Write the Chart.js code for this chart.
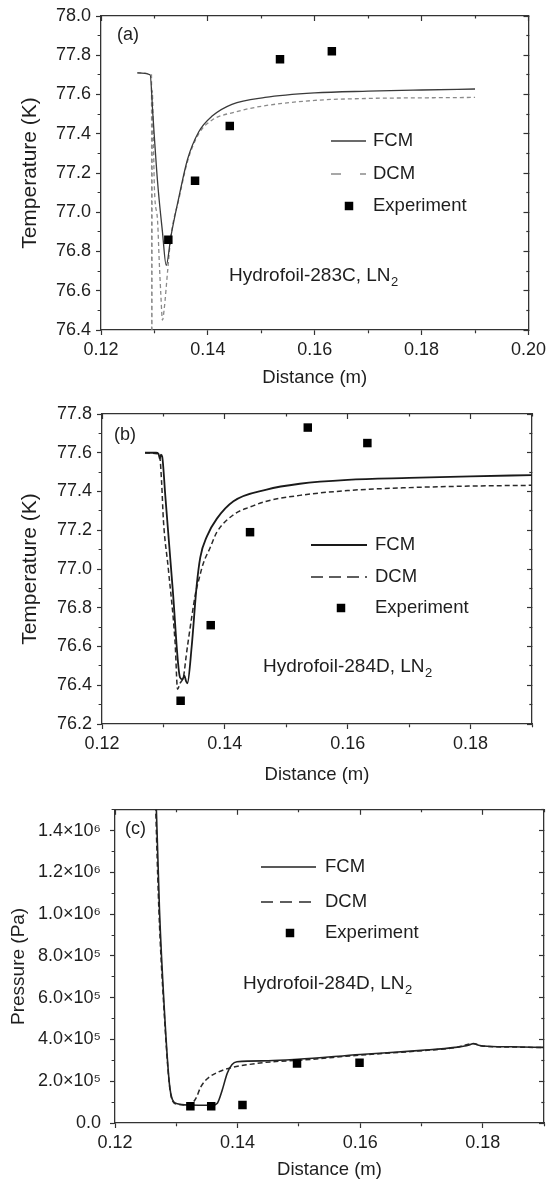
<!DOCTYPE html>
<html>
<head>
<meta charset="utf-8">
<script src="https://cdn.jsdelivr.net/npm/chart.js@4.4.1/dist/chart.umd.min.js"></script>
<style>
html,body{margin:0;padding:0;background:#fff;overflow:hidden;width:550px;height:1183px;}
canvas{position:absolute;left:0;display:block;}
#ca{top:0;} #cb{top:395px;} #cc{top:790px;}
</style>
</head>
<body>
<canvas id="ca" width="550" height="395"></canvas>
<canvas id="cb" width="550" height="395"></canvas>
<canvas id="cc" width="550" height="393"></canvas>
<script>
// ================= DATA =================
// ---- Panel (a): Hydrofoil-283C, temperature (K) vs distance (m)
const fcmA_x = [0.1268, 0.1292, 0.1297, 0.1306, 0.1315, 0.1322, 0.1331, 0.1346, 0.1362, 0.1383, 0.1408, 0.1445, 0.1507, 0.1600, 0.1700, 0.1800, 0.1900];
const fcmA_T = [77.71, 77.70, 77.50, 77.15, 76.90, 76.73, 76.88, 77.08, 77.27, 77.41, 77.49, 77.55, 77.585, 77.608, 77.617, 77.623, 77.628];
const dcmA_x = [0.1268, 0.12945, 0.12952, 0.12958, 0.1300, 0.1306, 0.1309, 0.1312, 0.1315, 0.1318, 0.1325, 0.1331, 0.1346, 0.1362, 0.1383, 0.1408, 0.1450, 0.1500, 0.1600, 0.1700, 0.1800, 0.1900];
const dcmA_T = [77.71, 77.70, 75.80, 77.62, 77.12, 76.95, 76.75, 76.58, 76.45, 76.50, 76.71, 76.88, 77.07, 77.26, 77.40, 77.47, 77.51, 77.54, 77.57, 77.58, 77.583, 77.585];
const expA_x = [0.1326, 0.1376, 0.1441, 0.1535, 0.1632];
const expA_T = [76.86, 77.16, 77.44, 77.78, 77.82];
const xTicksA  = [0.12, 0.13, 0.14, 0.15, 0.16, 0.17, 0.18, 0.19, 0.20];
const xMajorA  = [0.12, 0.14, 0.16, 0.18, 0.20];
const xLabelsA = ['0.12', '0.14', '0.16', '0.18', '0.20'];
const yTicksA  = [76.4, 76.5, 76.6, 76.7, 76.8, 76.9, 77.0, 77.1, 77.2, 77.3, 77.4, 77.5, 77.6, 77.7, 77.8, 77.9, 78.0];
const yMajorA  = [76.4, 76.6, 76.8, 77.0, 77.2, 77.4, 77.6, 77.8, 78.0];
const yLabelsA = ['76.4', '76.6', '76.8', '77.0', '77.2', '77.4', '77.6', '77.8', '78.0'];

// ---- Panel (b): Hydrofoil-284D, temperature (K) vs distance (m)
const fcmB_x = [0.1270, 0.1288, 0.1292, 0.1294, 0.1296, 0.1298, 0.1303, 0.1315, 0.1327, 0.1331, 0.1334, 0.1337, 0.1339, 0.1346, 0.1354, 0.1360, 0.1371, 0.1387, 0.1414, 0.1468, 0.1522, 0.1600, 0.1700, 0.1800, 0.1900];
const fcmB_T = [77.60, 77.60, 77.595, 77.57, 77.59, 77.58, 77.38, 76.90, 76.44, 76.43, 76.45, 76.42, 76.41, 76.60, 76.91, 77.06, 77.17, 77.26, 77.35, 77.41, 77.44, 77.46, 77.47, 77.478, 77.485];
const dcmB_x = [0.1270, 0.1290, 0.1294, 0.1297, 0.1300, 0.1308, 0.1319, 0.1323, 0.1327, 0.1333, 0.1337, 0.1340, 0.1346, 0.1352, 0.1358, 0.1365, 0.1376, 0.1387, 0.1414, 0.1441, 0.1468, 0.1522, 0.1600, 0.1700, 0.1800, 0.1900];
const dcmB_T = [77.60, 77.595, 77.58, 77.45, 77.25, 77.00, 76.62, 76.38, 76.41, 76.45, 76.55, 76.62, 76.75, 76.87, 76.95, 77.03, 77.11, 77.19, 77.28, 77.32, 77.35, 77.38, 77.405, 77.42, 77.428, 77.432];
const expB_x = [0.1328, 0.1377, 0.1441, 0.1535, 0.1632];
const expB_T = [76.32, 76.71, 77.19, 77.73, 77.65];
const xTicksB  = [0.12, 0.13, 0.14, 0.15, 0.16, 0.17, 0.18, 0.19];
const xMajorB  = [0.12, 0.14, 0.16, 0.18];
const xLabelsB = ['0.12', '0.14', '0.16', '0.18'];
const yTicksB  = [76.2, 76.3, 76.4, 76.5, 76.6, 76.7, 76.8, 76.9, 77.0, 77.1, 77.2, 77.3, 77.4, 77.5, 77.6, 77.7, 77.8];
const yMajorB  = [76.2, 76.4, 76.6, 76.8, 77.0, 77.2, 77.4, 77.6, 77.8];
const yLabelsB = ['76.2', '76.4', '76.6', '76.8', '77.0', '77.2', '77.4', '77.6', '77.8'];

// ---- Panel (c): Hydrofoil-284D, pressure (Pa) vs distance (m)
const fcmC_x = [0.1265, 0.12726, 0.12806, 0.12887, 0.1294, 0.1302, 0.1321, 0.1359, 0.1367, 0.1375, 0.1383, 0.1391, 0.1399, 0.1450, 0.1498, 0.1600, 0.1700, 0.1755, 0.1778, 0.1785, 0.1792, 0.1801, 0.1846, 0.1900];
const fcmC_P = [1.75e6, 1.02e6, 0.54e6, 0.19e6, 0.11e6, 0.092e6, 0.086e6, 0.085e6, 0.095e6, 0.158e6, 0.237e6, 0.280e6, 0.293e6, 0.298e6, 0.305e6, 0.328e6, 0.348e6, 0.362e6, 0.374e6, 0.381e6, 0.374e6, 0.369e6, 0.365e6, 0.362e6];
const dcmC_x = [0.1264, 0.12716, 0.12800, 0.12885, 0.1294, 0.1302, 0.1320, 0.1326, 0.1332, 0.1340, 0.1351, 0.1369, 0.1391, 0.1418, 0.1455, 0.1498, 0.1600, 0.1700, 0.1755, 0.1785, 0.1801, 0.1846, 0.1900];
const dcmC_P = [1.75e6, 1.02e6, 0.54e6, 0.19e6, 0.105e6, 0.090e6, 0.086e6, 0.095e6, 0.118e6, 0.173e6, 0.213e6, 0.245e6, 0.266e6, 0.280e6, 0.293e6, 0.300e6, 0.325e6, 0.346e6, 0.361e6, 0.380e6, 0.368e6, 0.364e6, 0.361e6];
const expC_x = [0.1323, 0.1357, 0.1408, 0.1497, 0.1599];
const expC_P = [0.080e6, 0.080e6, 0.086e6, 0.285e6, 0.288e6];
const xTicksC  = [0.12, 0.13, 0.14, 0.15, 0.16, 0.17, 0.18, 0.19];
const xMajorC  = [0.12, 0.14, 0.16, 0.18];
const xLabelsC = ['0.12', '0.14', '0.16', '0.18'];
const yTicksC  = [0, 1e5, 2e5, 3e5, 4e5, 5e5, 6e5, 7e5, 8e5, 9e5, 1.0e6, 1.1e6, 1.2e6, 1.3e6, 1.4e6, 1.5e6];
const yMajorC  = [0, 2e5, 4e5, 6e5, 8e5, 1.0e6, 1.2e6, 1.4e6];
const yLabelsC = ['0.0', '2.0×10⁵', '4.0×10⁵', '6.0×10⁵', '8.0×10⁵', '1.0×10⁶', '1.2×10⁶', '1.4×10⁶'];

const seriesNames = ['FCM', 'DCM', 'Experiment'];

// ================= HELPERS =================
const FONT = "'Liberation Sans', Arial, Helvetica, 'DejaVu Sans', sans-serif";
const INK = '#1e1e1e';
const AX = '#333333';
Chart.defaults.font.family = FONT;

function pair(xs, ys) { return xs.map((x, i) => ({ x: x, y: ys[i] })); }
function near(a, b) { return Math.abs(a - b) <= 1e-7 * Math.max(1, Math.abs(a), Math.abs(b)); }
function labelFor(major, labels) {
  return function (v) { const i = major.findIndex(m => near(m, v)); return i < 0 ? '' : labels[i]; };
}
function dashFor(major, minorDash) {
  return function (ctx) {
    const v = ctx.tick ? ctx.tick.value : null;
    return (v === null || major.some(m => near(m, v))) ? [] : minorDash;
  };
}
function axis(pos, o) {
  const mirror = (pos === 'top' || pos === 'right');
  const horizontal = (pos === 'top' || pos === 'bottom');
  const minorDash = { bottom: [3, 20], left: [0, 1.6, 3, 20], top: [0, 2.6, 3, 20], right: [3, 20] }[pos];
  return {
    type: 'linear', position: pos, min: o.min, max: o.max,
    afterBuildTicks: s => { s.ticks = o.ticks.map(v => ({ value: v })); },
    afterFit: s => { if (horizontal) s.height = o.size; else s.width = o.size; },
    ticks: {
      display: !mirror, autoSkip: false, maxRotation: 0, minRotation: 0,
      padding: o.tickPad || 4, color: INK, font: { size: 18, family: FONT },
      callback: labelFor(o.major, o.labels)
    },
    grid: {
      display: true, drawOnChartArea: false, drawTicks: true,
      tickLength: mirror ? -5 : 5, tickWidth: 1.2, tickColor: AX,
      tickBorderDash: dashFor(o.major, minorDash)
    },
    border: { display: true, color: AX, width: 1.3 },
    title: o.title ? { display: true, text: o.title, color: INK, font: { size: o.titleSize || 18, family: FONT }, padding: o.titlePad } : { display: false }
  };
}

const decor = {
  id: 'decor',
  afterDraw(chart, args, opts) {
    const ctx = chart.ctx;
    ctx.save();
    ctx.font = '18px ' + FONT;
    ctx.fillStyle = INK;
    ctx.textBaseline = 'middle';
    ctx.textAlign = 'left';
    ctx.fillText(opts.letter.text, opts.letter.x, opts.letter.y);
    ctx.font = '18.5px ' + FONT;
    opts.legend.forEach(item => {
      const ds = chart.data.datasets[item.ds];
      if (item.kind === 'line') {
        ctx.save();
        ctx.strokeStyle = ds.borderColor;
        ctx.lineWidth = ds.borderWidth;
        ctx.setLineDash(item.dash || []);
        ctx.beginPath(); ctx.moveTo(item.x1, item.y); ctx.lineTo(item.x2, item.y); ctx.stroke();
        ctx.restore();
      } else {
        const s = ds.pointRadius * Math.SQRT1_2 * 2;
        ctx.fillStyle = ds.backgroundColor;
        ctx.fillRect(item.mx - s / 2, item.y - s / 2, s, s);
        ctx.fillStyle = INK;
      }
      ctx.fillText(ds.label, item.tx, item.y);
    });
    const n = opts.note;
    ctx.font = '19px ' + FONT;
    ctx.fillText(n.text, n.x, n.y);
    const w = ctx.measureText(n.text).width;
    ctx.font = '13px ' + FONT;
    ctx.fillText(n.sub, n.x + w + 0.5, n.y + 6);
    ctx.restore();
  }
};

function buildChart(id, p) {
  const W = 550, H = p.height, A = p.area;
  const datasets = [
    { label: seriesNames[0], data: pair(p.fcm[0], p.fcm[1]), showLine: true, borderColor: p.fcmColor, borderWidth: p.fcmWidth,
      pointRadius: 0, cubicInterpolationMode: 'monotone', order: 1 },
    { label: seriesNames[1], data: pair(p.dcm[0], p.dcm[1]), showLine: true, borderColor: p.dcmColor, borderWidth: p.dcmWidth,
      borderDash: p.dcmDash, pointRadius: 0, cubicInterpolationMode: 'monotone', order: 2 },
    { label: seriesNames[2], data: pair(p.exp[0], p.exp[1]), showLine: false, pointStyle: 'rect', pointRadius: 6,
      backgroundColor: '#000', borderColor: '#000', borderWidth: 0, order: 0 }
  ];
  return new Chart(document.getElementById(id), {
    type: 'scatter',
    data: { datasets: datasets },
    plugins: [decor],
    options: {
      responsive: false, animation: false, events: [],
      layout: { padding: { left: 0, top: A.top, right: W - A.right, bottom: 0 } },
      plugins: { legend: { display: false }, tooltip: { enabled: false }, decor: p.decor },
      scales: {
        x: axis('bottom', { min: p.x.min, max: p.x.max, ticks: p.x.ticks, major: p.x.major, labels: p.x.labels, size: H - A.bottom,
                            tickPad: 4, title: 'Distance (m)', titleSize: 18.5, titlePad: { top: 0, bottom: p.xTitlePad } }),
        y: axis('left', { min: p.y.min, max: p.y.max, ticks: p.y.ticks, major: p.y.major, labels: p.y.labels, size: A.left,
                          tickPad: p.yTickPad, title: p.yTitle, titleSize: p.yTitleSize, titlePad: { top: p.yTitlePad, bottom: 0 } }),
        x2: axis('top', { min: p.x.min, max: p.x.max, ticks: p.x.ticks, major: p.x.major, labels: p.x.labels, size: 0 }),
        y2: axis('right', { min: p.y.min, max: p.y.max, ticks: p.y.ticks, major: p.y.major, labels: p.y.labels, size: 0 })
      }
    }
  });
}

// ---- (a)
buildChart('ca', {
  height: 395, area: { left: 101, top: 16, right: 533, bottom: 330 },
  fcm: [fcmA_x, fcmA_T], dcm: [dcmA_x, dcmA_T], exp: [expA_x, expA_T],
  fcmColor: '#3a3a3a', fcmWidth: 1.3, dcmColor: '#8a8a8a', dcmWidth: 1.3, dcmDash: [4, 3],
  x: { min: 0.12, max: 0.20, ticks: xTicksA, major: xMajorA, labels: xLabelsA },
  y: { min: 76.4, max: 78.0, ticks: yTicksA, major: yMajorA, labels: yLabelsA },
  yTitle: 'Temperature (K)', yTitleSize: 21, yTitlePad: 18, yTickPad: 5, xTitlePad: 6,
  decor: {
    letter: { text: '(a)', x: 117, y: 35 },
    legend: [
      { ds: 0, kind: 'line', x1: 331, x2: 366, y: 141, tx: 373 },
      { ds: 1, kind: 'line', x1: 331, x2: 366, y: 174, tx: 373, dash: [10, 19] },
      { ds: 2, kind: 'marker', mx: 349, y: 206, tx: 373 }
    ],
    note: { text: 'Hydrofoil-283C, LN', sub: '2', x: 229, y: 276 }
  }
});

// ---- (b)
buildChart('cb', {
  height: 395, area: { left: 102, top: 19, right: 532, bottom: 329 },
  fcm: [fcmB_x, fcmB_T], dcm: [dcmB_x, dcmB_T], exp: [expB_x, expB_T],
  fcmColor: '#1a1a1a', fcmWidth: 1.8, dcmColor: '#2a2a2a', dcmWidth: 1.5, dcmDash: [5, 3],
  x: { min: 0.12, max: 0.19, ticks: xTicksB, major: xMajorB, labels: xLabelsB },
  y: { min: 76.2, max: 77.8, ticks: yTicksB, major: yMajorB, labels: yLabelsB },
  yTitle: 'Temperature (K)', yTitleSize: 21, yTitlePad: 18, yTickPad: 5, xTitlePad: 4,
  decor: {
    letter: { text: '(b)', x: 114, y: 40 },
    legend: [
      { ds: 0, kind: 'line', x1: 311, x2: 367, y: 150, tx: 375 },
      { ds: 1, kind: 'line', x1: 311, x2: 367, y: 182, tx: 375, dash: [12, 6] },
      { ds: 2, kind: 'marker', mx: 341, y: 213, tx: 375 }
    ],
    note: { text: 'Hydrofoil-284D, LN', sub: '2', x: 263, y: 272 }
  }
});

// ---- (c)
buildChart('cc', {
  height: 393, area: { left: 115, top: 19, right: 549, bottom: 333 },
  fcm: [fcmC_x, fcmC_P], dcm: [dcmC_x, dcmC_P], exp: [expC_x, expC_P],
  fcmColor: '#222222', fcmWidth: 1.6, dcmColor: '#2a2a2a', dcmWidth: 1.5, dcmDash: [5, 3],
  x: { min: 0.12, max: 0.19, ticks: xTicksC, major: xMajorC, labels: xLabelsC },
  y: { min: 0, max: 1.5e6, ticks: yTicksC, major: yMajorC, labels: yLabelsC },
  yTitle: 'Pressure (Pa)', yTitleSize: 19, yTitlePad: 7, yTickPad: 9, xTitlePad: 2,
  decor: {
    letter: { text: '(c)', x: 125, y: 39 },
    legend: [
      { ds: 0, kind: 'line', x1: 261, x2: 316, y: 77, tx: 325 },
      { ds: 1, kind: 'line', x1: 261, x2: 316, y: 112, tx: 325, dash: [12, 7] },
      { ds: 2, kind: 'marker', mx: 290, y: 143, tx: 325 }
    ],
    note: { text: 'Hydrofoil-284D, LN', sub: '2', x: 243, y: 194 }
  }
});
</script>
</body>
</html>
